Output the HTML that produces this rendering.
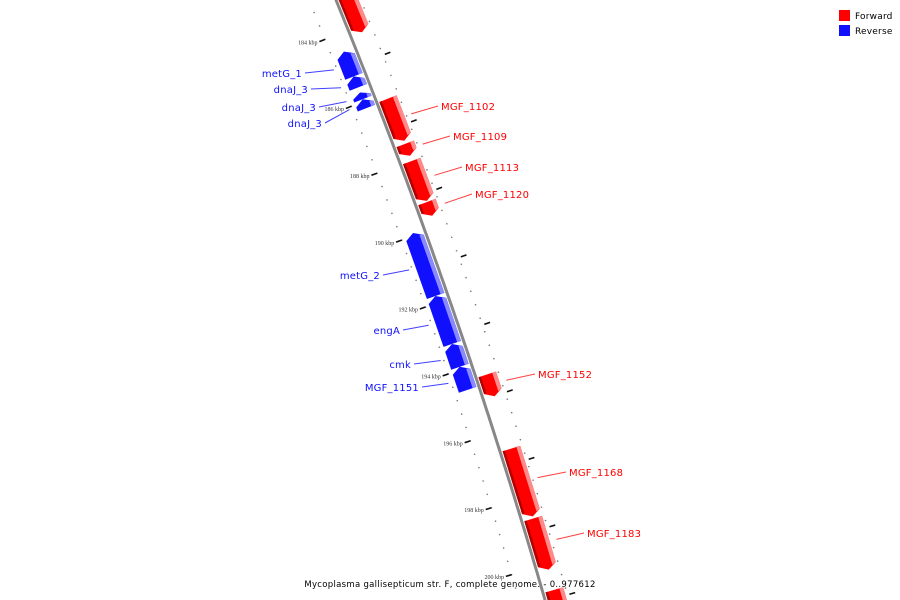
<!DOCTYPE html>
<html><head><meta charset="utf-8"><style>
html,body{margin:0;padding:0;background:#fff;overflow:hidden;}
svg{display:block;}
.lab{font-family:"DejaVu Sans","Liberation Sans",sans-serif;font-size:10px;letter-spacing:0.2px;}
.tk{font-family:"Liberation Serif",serif;font-size:6px;fill:#333;}
</style></head><body>
<svg id="map" width="900" height="600" viewBox="0 0 900 600" xmlns="http://www.w3.org/2000/svg">
<g id="layer-ticks"></g>
<path id="backbone" fill="none" stroke="#888" stroke-width="3"/>
<g id="layer-genes"></g>
<g id="layer-labels"></g>
<g>
<rect x="839" y="10" width="11" height="11" fill="#ff0000"/>
<text class="lab" x="855" y="19" style="font-size:9px;letter-spacing:0.2px">Forward</text>
<rect x="839" y="25" width="11" height="11" fill="#1010ff"/>
<text class="lab" x="855" y="34" style="font-size:9px;letter-spacing:0.2px">Reverse</text>
</g>
<text x="450" y="587" text-anchor="middle" style="font-family:'DejaVu Sans','Liberation Sans',sans-serif;font-size:8.5px;letter-spacing:0.3px">Mycoplasma gallisepticum str. F, complete genome. - 0..977612</text>
</svg>
<script>
var geneNames = ["","MGF_1102","MGF_1109","MGF_1113","MGF_1120","MGF_1152","MGF_1168","MGF_1183","","metG_1","dnaJ_3","dnaJ_3","dnaJ_3","metG_2","engA","cmk","MGF_1151"];
var geneStart = [182.5,186.17,187.51,188.02,189.24,194.36,196.56,198.64,200.76,184.51,185.25,185.73,185.93,189.92,191.80,193.23,193.91];
var geneEnd   = [184.2,187.42,187.87,189.21,189.65,195.01,198.58,200.16,201.6,185.25,185.58,185.93,186.2,191.80,193.23,193.91,194.60];
var geneStrand = [1,1,1,1,1,1,1,1,1,-1,-1,-1,-1,-1,-1,-1,-1];
var tickLabels = ["184 kbp","186 kbp","188 kbp","190 kbp","192 kbp","194 kbp","196 kbp","198 kbp","200 kbp"];
var tickValues = [184,186,188,190,192,194,196,198,200];
// layout only: label anchor positions (x, baseline y)
var labelPos = [null,[441,110],[453,140],[465,171],[475,198],[538,378],[569,476],[587,537],null,
  [302,77],[308,93],[316,111],[322,127],[380,279],[400,334],[411,368],[419,391]];

var NS="http://www.w3.org/2000/svg";
function yOf(k){return 30+(k-184)*33.6;}
function xLine(y){return 336+0.4084*y-0.0001*y*y;}
function pt(k,off){
  var y=yOf(k), x=xLine(y);
  var dx=0.4084-0.0002*y, L=Math.sqrt(dx*dx+1);
  var tx=dx/L, ty=1/L; var nx=ty, ny=-tx;
  return [x+nx*off, y+ny*off];
}
function mk(tag,attrs,parent){var e=document.createElementNS(NS,tag);for(var a in attrs)e.setAttribute(a,attrs[a]);parent.appendChild(e);return e;}
function poly(ps){return ps.map(function(p){return p[0].toFixed(1)+","+p[1].toFixed(1);}).join(" ");}

var d="";for(var y=-5;y<=605;y+=5){d+=(y==-5?"M":"L")+xLine(y).toFixed(1)+","+y;}
document.getElementById("backbone").setAttribute("d",d);

var gt=document.getElementById("layer-ticks");
for(var k=182;k<=202.01;k+=0.4){
  var kk=Math.round(k*10)/10;
  [-25,23].forEach(function(o){
    var p=pt(kk,o);
    var c=mk("circle",{cx:p[0],cy:p[1],r:0.8,fill:"#777"},gt);
    
    
  });
}
for(var k2=181;k2<=202;k2++){
  var side=(k2%2===0)?-1:1;
  var a=pt(k2,side*25), b=pt(k2,side*31);
  var l=mk("line",{x1:a[0],y1:a[1],x2:b[0],y2:b[1],stroke:"#111","stroke-width":1.6},gt);
  
  
}
tickValues.forEach(function(v,i){
  var p=pt(v,-33);
  var t=mk("text",{x:p[0],y:p[1]+2,"text-anchor":"end","class":"tk"},gt);
  t.textContent=tickLabels[i];
  
  
});

var gg=document.getElementById("layer-genes"), gl=document.getElementById("layer-labels");
geneNames.forEach(function(nm,i){
  var s=geneStart[i], e=geneEnd[i], st=geneStrand[i];
  var r1=st*2.5, r2=st*21, rm=st*12;
  var tip=Math.min(0.15,(e-s)*0.6);
  var ps;
  if(st>0){ps=[pt(s,r1),pt(s,r2),pt(e-tip,r2),pt(e,rm),pt(e-tip,r1)];}
  else{ps=[pt(e,r1),pt(e,r2),pt(s+tip,r2),pt(s,rm),pt(s+tip,r1)];}
  var g=mk("g",{},gg);
  
  
  var main=st>0?"#ff0000":"#1010ff", lite=st>0?"#ff8a8a":"#8a8aff", dark=st>0?"#b00000":"#0000b0";
  mk("polygon",{points:poly(ps),fill:main},g);
  var o1=st>0?5:-5, ro=st>0?r2:r1;
  var li = st>0 ? [pt(s,r2-4),pt(s,r2),pt(e-tip,r2),pt(e-tip*0.7,r2-4)] : [pt(e,r1),pt(e,r1-4),pt(s+tip*0.7,r1-4),pt(s+tip,r1)];
  mk("polygon",{points:poly(li),fill:lite},g);
  if(st>0){mk("polygon",{points:poly([pt(s,r1),pt(s,r1+2.5),pt(e-tip,r1+2.5),pt(e-tip,r1)]),fill:dark},g);}
  if(nm&&labelPos[i]){
    var mid=(s+e)/2, a=pt(mid,st*28), lp2=labelPos[i];
    var ex=st>0?lp2[0]-3:lp2[0]+3, ey=lp2[1]-4;
    var ln=mk("line",{x1:a[0],y1:a[1],x2:ex,y2:ey,stroke:st>0?"#ff4040":"#4040ff","stroke-width":1},gl);
    
    
    var t=mk("text",{x:lp2[0],y:lp2[1],"text-anchor":st>0?"start":"end",fill:st>0?"#ff0000":"#1010ff","class":"lab"},gl);
    t.textContent=nm;
    
    
  }
});
</script>
</body></html>
